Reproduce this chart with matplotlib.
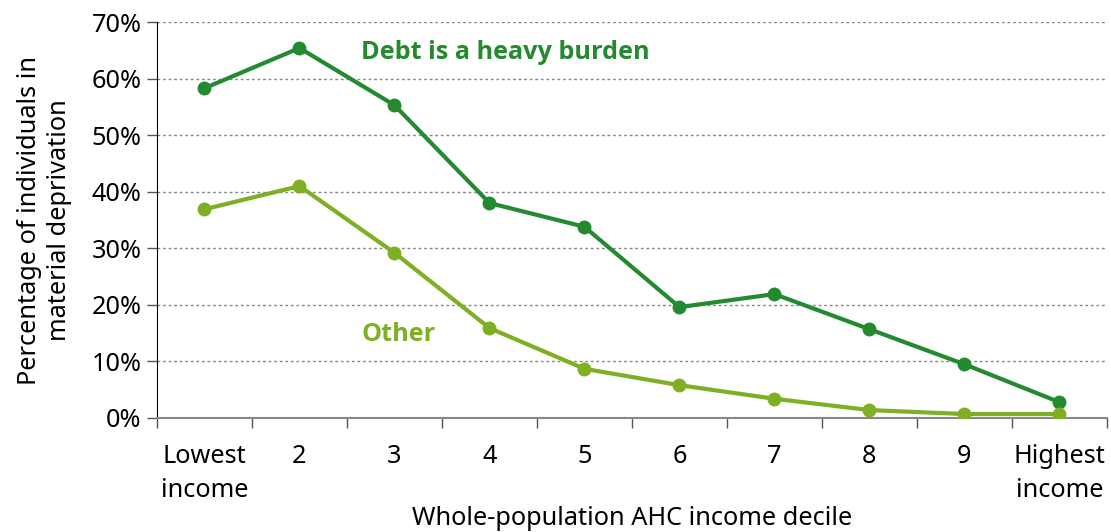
import numpy as np
import matplotlib.pyplot as plt
from matplotlib.ticker import FixedLocator, PercentFormatter

plt.rcParams['font.family'] = ['Noto Sans', 'DejaVu Sans']

# Data
deciles = ["Lowest\nincome", "2", "3", "4", "5", "6", "7", "8", "9", "Highest\nincome"]
debt_burden = [58.3, 65.4, 55.3, 38.0, 33.8, 19.6, 21.9, 15.7, 9.5, 2.8]
other = [36.9, 41.0, 29.2, 15.9, 8.7, 5.8, 3.4, 1.4, 0.7, 0.7]

dark_green = "#238a2f"
light_green = "#7faf22"
fs = 18.2

fig = plt.figure(figsize=(11.11, 5.32), dpi=100)
ax = fig.add_axes([0.1413, 0.2143, 0.855, 0.7443])

x = np.arange(len(deciles))
ax.plot(x, debt_burden, color=dark_green, lw=3, marker="o", ms=9, zorder=3)
ax.plot(x, other, color=light_green, lw=3, marker="o", ms=9, zorder=3)

ax.text(1.65, 64.6, "Debt is a heavy burden", color=dark_green, fontsize=18.2,
        fontweight="bold", family="Open Sans", ha="left", va="center")
ax.text(1.65, 14.8, "Other", color=light_green, fontsize=18.2,
        fontweight="bold", family="Open Sans", ha="left", va="center")

ax.set_xlim(-0.5, 9.5)
ax.set_ylim(0, 70)
ax.set_yticks(np.arange(0, 71, 10))
ax.yaxis.set_major_formatter(PercentFormatter(decimals=0))
ax.grid(axis="y", color="#888888", ls=(0, (2, 2)), lw=1)
ax.set_axisbelow(True)

ax.set_xticks(x)
ax.set_xticklabels(deciles, linespacing=1.45)
ax.xaxis.set_minor_locator(FixedLocator(np.arange(-0.5, 10, 1)))
ax.tick_params(axis="x", which="major", length=0, pad=19, labelsize=fs)
ax.tick_params(axis="x", which="minor", length=7, color="#555555", width=1)
ax.tick_params(axis="y", length=7, color="#555555", width=1, labelsize=fs, pad=4)

for s in ["top", "right"]:
    ax.spines[s].set_visible(False)
ax.spines["left"].set_color("black")
ax.spines["bottom"].set_color("#888888")
ax.spines["bottom"].set_linewidth(1.5)

ax.set_ylabel("Percentage of individuals in\nmaterial deprivation", fontsize=fs,
              linespacing=1.3, labelpad=14)
ax.set_xlabel("Whole-population AHC income decile", fontsize=fs, labelpad=2)

fig.savefig("out.png", dpi=100)
